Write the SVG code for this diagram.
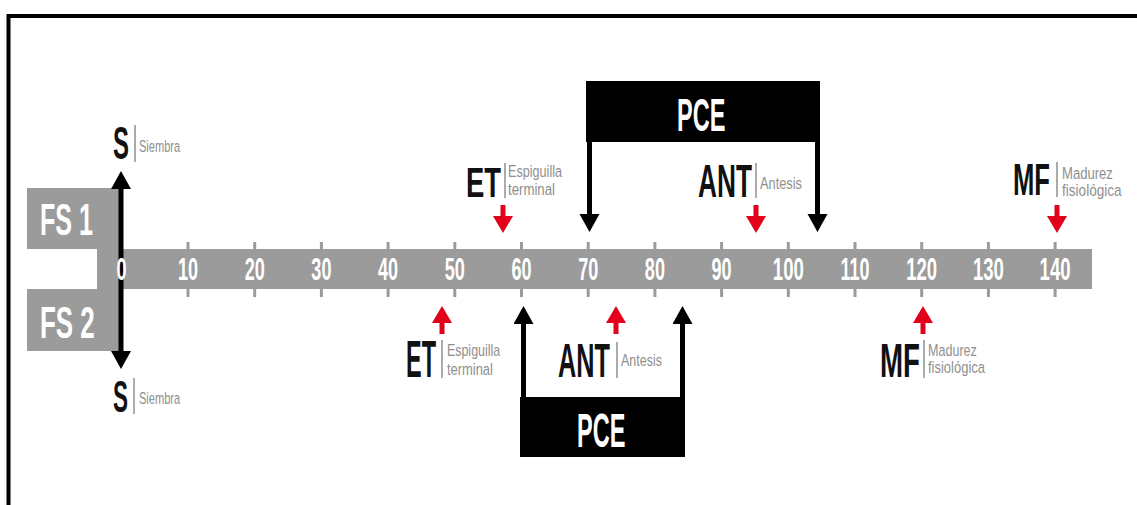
<svg xmlns="http://www.w3.org/2000/svg" width="1137" height="505" viewBox="0 0 1137 505">
  <style>
    .bar { fill: #9b9b9b; }
    .tick { fill: #9b9b9b; }
    .num { font-family: "Liberation Sans", Arial, sans-serif; font-weight: bold; font-size: 32px; fill: #ffffff; text-anchor: middle; }
    .big { font-family: "Liberation Sans", Arial, sans-serif; font-weight: bold; fill: #111111; }
    .inv { font-family: "Liberation Sans", Arial, sans-serif; font-weight: bold; fill: #ffffff; }
    .small { font-family: "Liberation Sans", Arial, sans-serif; font-size: 17px; fill: #8f8f8f; }
    .sep { stroke: #8f8f8f; stroke-width: 1.5; }
    .blk { stroke: #000000; stroke-width: 5; fill: none; }
    .red { stroke: #e2001a; stroke-width: 5; fill: none; }
  </style>
  <defs>
    <marker id="headBlack" markerUnits="userSpaceOnUse" markerWidth="20" markerHeight="22" refX="1" refY="10" orient="auto-start-reverse">
      <path d="M0,0 L18,10 L0,20 Z" fill="#000000"/>
    </marker>
    <marker id="headRed" markerUnits="userSpaceOnUse" markerWidth="20" markerHeight="22" refX="1" refY="10" orient="auto">
      <path d="M0,0 L17,10 L0,20 Z" fill="#e2001a"/>
    </marker>
  </defs>

  <rect width="1137" height="505" fill="#ffffff"/>

  <!-- frame -->
  <path id="frame" d="M8.5,505 V16 H1137" fill="none" stroke="#000000" stroke-width="4"/>

  <!-- time axis -->
  <g id="axis">
    <rect class="bar" x="97" y="249" width="995" height="40"/>
    <g id="ticks">
      <rect class="tick" x="186.5" y="242" width="3" height="55"/>
      <rect class="tick" x="253.2" y="242" width="3" height="55"/>
      <rect class="tick" x="319.9" y="242" width="3" height="55"/>
      <rect class="tick" x="386.6" y="242" width="3" height="55"/>
      <rect class="tick" x="453.3" y="242" width="3" height="55"/>
      <rect class="tick" x="520" y="242" width="3" height="55"/>
      <rect class="tick" x="586.7" y="242" width="3" height="55"/>
      <rect class="tick" x="653.4" y="242" width="3" height="55"/>
      <rect class="tick" x="720.1" y="242" width="3" height="55"/>
      <rect class="tick" x="786.8" y="242" width="3" height="55"/>
      <rect class="tick" x="853.5" y="242" width="3" height="55"/>
      <rect class="tick" x="920.2" y="242" width="3" height="55"/>
      <rect class="tick" x="986.9" y="242" width="3" height="55"/>
      <rect class="tick" x="1053.6" y="242" width="3" height="55"/>
    </g>
  </g>

  <!-- phase boxes -->
  <g id="fs1">
    <rect class="bar" x="27" y="188" width="95" height="61"/>
    <text class="inv" font-size="44" transform="translate(40,235) scale(0.57,1)">FS 1</text>
  </g>
  <g id="fs2">
    <rect class="bar" x="27" y="289" width="95" height="62"/>
    <text class="inv" font-size="44" transform="translate(40,338) scale(0.59,1)">FS 2</text>
  </g>

  <!-- connectors -->
  <g id="connectors">
    <!-- sowing double arrow -->
    <path class="blk" d="M121,188 V352" stroke-width="4" marker-start="url(#headBlack)" marker-end="url(#headBlack)"/>
    <!-- PCE brackets -->
    <path class="blk" d="M589.5,140 V215" marker-end="url(#headBlack)"/>
    <path class="blk" d="M817.5,140 V215" marker-end="url(#headBlack)"/>
    <path class="blk" d="M523.5,399 V323" marker-end="url(#headBlack)"/>
    <path class="blk" d="M682.5,399 V323" marker-end="url(#headBlack)"/>
    <!-- stage markers, upper row -->
    <path class="red" d="M503,205 V217" marker-end="url(#headRed)"/>
    <path class="red" d="M756,205 V217" marker-end="url(#headRed)"/>
    <path class="red" d="M1057,205 V217" marker-end="url(#headRed)"/>
    <!-- stage markers, lower row -->
    <path class="red" d="M442,334 V322" marker-end="url(#headRed)"/>
    <path class="red" d="M616,334 V322" marker-end="url(#headRed)"/>
    <path class="red" d="M923,334 V322" marker-end="url(#headRed)"/>
  </g>

  <!-- axis numbers (drawn over the sowing line) -->
  <g id="numbers">
    <text class="num" transform="translate(121.5,280) scale(0.565,1)">0</text>
    <text class="num" transform="translate(188,280) scale(0.565,1)">10</text>
    <text class="num" transform="translate(254.7,280) scale(0.565,1)">20</text>
    <text class="num" transform="translate(321.4,280) scale(0.565,1)">30</text>
    <text class="num" transform="translate(388.1,280) scale(0.565,1)">40</text>
    <text class="num" transform="translate(454.8,280) scale(0.565,1)">50</text>
    <text class="num" transform="translate(521.5,280) scale(0.565,1)">60</text>
    <text class="num" transform="translate(588.2,280) scale(0.565,1)">70</text>
    <text class="num" transform="translate(654.9,280) scale(0.565,1)">80</text>
    <text class="num" transform="translate(721.6,280) scale(0.565,1)">90</text>
    <text class="num" transform="translate(788.3,280) scale(0.58,1)">100</text>
    <text class="num" transform="translate(855,280) scale(0.56,1)">110</text>
    <text class="num" transform="translate(921.7,280) scale(0.58,1)">120</text>
    <text class="num" transform="translate(988.4,280) scale(0.58,1)">130</text>
    <text class="num" transform="translate(1055.1,280) scale(0.58,1)">140</text>
  </g>

  <!-- PCE boxes -->
  <g id="pce-top">
    <rect x="586" y="81" width="234" height="61" fill="#000000"/>
    <text class="inv" font-size="47" transform="translate(677,131) scale(0.5,1)">PCE</text>
  </g>
  <g id="pce-bottom">
    <rect x="520" y="397" width="165" height="60" fill="#000000"/>
    <text class="inv" font-size="48" transform="translate(577,447) scale(0.49,1)">PCE</text>
  </g>

  <!-- upper row labels -->
  <g id="s-top">
    <text class="big" font-size="46" transform="translate(113,159) scale(0.52,1)">S</text>
    <line class="sep" x1="135" y1="125" x2="135" y2="162"/>
    <text class="small" font-size="19" transform="translate(139,152) scale(0.65,1)">Siembra</text>
  </g>
  <g id="et-top">
    <text class="big" font-size="43" transform="translate(466,197) scale(0.637,1)">ET</text>
    <line class="sep" x1="505" y1="163" x2="505" y2="198"/>
    <text class="small" transform="translate(508,177) scale(0.743,1)">Espiguilla</text>
    <text class="small" transform="translate(508,195) scale(0.777,1)">terminal</text>
  </g>
  <g id="ant-top">
    <text class="big" font-size="46" transform="translate(698,197) scale(0.571,1)">ANT</text>
    <line class="sep" x1="756" y1="163" x2="756" y2="198"/>
    <text class="small" transform="translate(760,189) scale(0.754,1)">Antesis</text>
  </g>
  <g id="mf-top">
    <text class="big" font-size="44" transform="translate(1013,195) scale(0.583,1)">MF</text>
    <line class="sep" x1="1057" y1="162" x2="1057" y2="197"/>
    <text class="small" font-size="16" transform="translate(1062,179) scale(0.77,1)">Madurez</text>
    <text class="small" font-size="16" transform="translate(1062,196) scale(0.8,1)">fisiológica</text>
  </g>

  <!-- lower row labels -->
  <g id="s-bottom">
    <text class="big" font-size="44" transform="translate(113,412) scale(0.512,1)">S</text>
    <line class="sep" x1="134" y1="378" x2="134" y2="414"/>
    <text class="small" font-size="19" transform="translate(139,404) scale(0.65,1)">Siembra</text>
  </g>
  <g id="et-bottom">
    <text class="big" font-size="51" transform="translate(406,377) scale(0.46,1)">ET</text>
    <line class="sep" x1="442" y1="340" x2="442" y2="378"/>
    <text class="small" transform="translate(447,356) scale(0.73,1)">Espiguilla</text>
    <text class="small" transform="translate(447,375) scale(0.76,1)">terminal</text>
  </g>
  <g id="ant-bottom">
    <text class="big" font-size="49" transform="translate(558,377) scale(0.516,1)">ANT</text>
    <line class="sep" x1="617" y1="342" x2="617" y2="378"/>
    <text class="small" transform="translate(621,366) scale(0.736,1)">Antesis</text>
  </g>
  <g id="mf-bottom">
    <text class="big" font-size="49" transform="translate(880,377) scale(0.565,1)">MF</text>
    <line class="sep" x1="924" y1="340" x2="924" y2="378"/>
    <text class="small" transform="translate(928,356) scale(0.74,1)">Madurez</text>
    <text class="small" transform="translate(928,373) scale(0.764,1)">fisiológica</text>
  </g>
</svg>
